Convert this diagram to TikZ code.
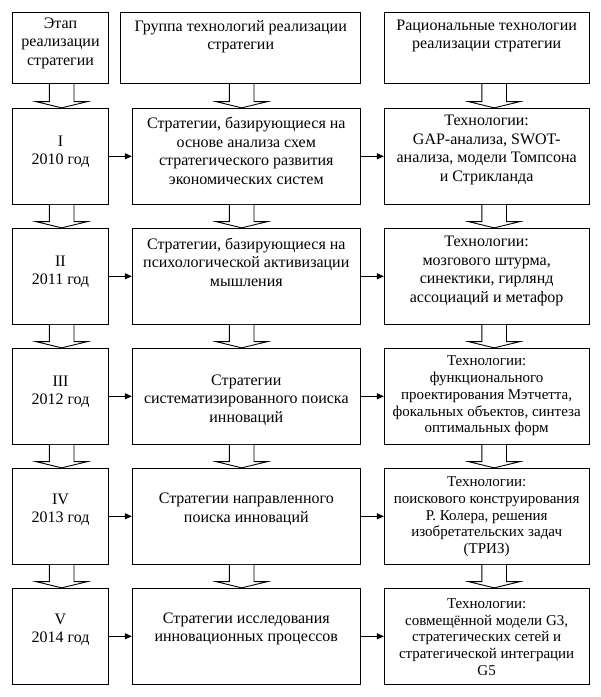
\documentclass[tikz,border=0pt]{standalone}
\usepackage{fontspec}
\setmainfont{Liberation Serif}
\usetikzlibrary{arrows.meta,calc}
\tikzset{
  box/.style={draw, line width=0.9pt, fill=white, inner sep=0pt},
  txt/.style={align=center, inner sep=0pt, font=\fontsize{16}{18.5}\selectfont},
  txts/.style={align=center, inner sep=0pt, font=\fontsize{15}{16.7}\selectfont},
  arr/.style={line width=0.9pt, -{Triangle[length=7pt,width=6pt]}},
  blk/.style={line width=0.9pt, fill=white, line join=miter},
}
\newcommand\blockarr[3]{%
  \draw[blk] let \p1=(#1.south), \p2=(#2.north) in
    ({#3pt-12.3pt},\y1) -- ({#3pt-12.3pt},{\y2+6.3pt}) -- ({#3pt-26pt},{\y2+6.3pt})
    -- ({#3pt},\y2) -- ({#3pt+26pt},{\y2+6.3pt}) -- ({#3pt+12.3pt},{\y2+6.3pt})
    -- ({#3pt+12.3pt},\y1);}
\begin{document}
\begin{tikzpicture}[x=1pt,y=1pt]
\useasboundingbox (0,0) rectangle (601,-697);
% header
\node[box, minimum width=95.6pt, minimum height=71pt] (h1) at (60.5,-48.2) {};
\node[box, minimum width=240pt, minimum height=71pt] (h2) at (240.7,-48.2) {};
\node[box, minimum width=204.7pt, minimum height=71pt] (h3) at (486.65,-48.2) {};
\node[txt] (h1t) at (60.5,-43) {Этап\\реализации\\стратегии};
\node[txt] (h2t) at (240.7,-36.5) {Группа технологий реализации\\стратегии};
\node[txt] (h3t) at (486.65,-36) {Рациональные технологии\\реализации стратегии};
% rows
\foreach \r/\k in {1/0,2/1,3/2,4/3,5/4}{
  \node[box, minimum width=95.6pt, minimum height=96pt] (a\r) at (60.5,{-156.3-120*\k}) {};
  \node[box, minimum width=228pt, minimum height=96pt] (b\r) at (246.3,{-156.3-120*\k}) {};
  \node[box, minimum width=204.7pt, minimum height=96pt] (c\r) at (486.65,{-156.3-120*\k}) {};
  \draw[arr] (a\r.east) -- (b\r.west);
  \draw[arr] (b\r.east) -- (c\r.west);
}
% texts row I
\node[txt] (a1t) at (60.5,-152) {I\\2010 год};
\node[txt] (b1t) at (246.3,-151) {Стратегии, базирующиеся на\\основе анализа схем\\стратегического развития\\экономических систем};
\node[txt] (c1t) at (486.65,-150) {Технологии:\\GAP-анализа, SWOT-\\анализа, модели Томпсона\\и Стрикланда};
% row II
\node[txt] (a2t) at (60.5,-272) {II\\2011 год};
\node[txt] (b2t) at (246.3,-262) {Стратегии, базирующиеся на\\психологической активизации\\мышления};
\node[txt] (c2t) at (486.65,-271) {Технологии:\\мозгового штурма,\\синектики, гирлянд\\ассоциаций и метафор};
% row III
\node[txt] (a3t) at (60.5,-392) {III\\2012 год};
\node[txt] (b3t) at (246.3,-400) {Стратегии\\систематизированного поиска\\инноваций};
\node[txts] (c3t) at (486.65,-396) {Технологии:\\функционального\\проектирования Мэтчетта,\\фокальных объектов, синтеза\\оптимальных форм};
% row IV
\node[txt] (a4t) at (60.5,-510) {IV\\2013 год};
\node[txt] (b4t) at (246.3,-509) {Стратегии направленного\\поиска инноваций};
\node[txts] (c4t) at (486.65,-516.7) {Технологии:\\поискового конструирования\\Р. Колера, решения\\изобретательских задач\\(ТРИЗ)};
% row V
\node[txt] (a5t) at (60.5,-630) {V\\2014 год};
\node[txt] (b5t) at (246.3,-629) {Стратегии исследования\\инновационных процессов};
\node[txts] (c5t) at (486.65,-637) {Технологии:\\совмещённой модели G3,\\стратегических сетей и\\стратегической интеграции\\G5};
% block arrows
\blockarr{h1}{a1}{61.7}
\blockarr{h2}{b1}{241.7}
\blockarr{h3}{c1}{494.2}
\foreach \r/\s in {1/2,2/3,3/4,4/5}{
  \blockarr{a\r}{a\s}{61.7}
  \blockarr{b\r}{b\s}{241.7}
  \blockarr{c\r}{c\s}{494.2}
}
\end{tikzpicture}
\end{document}
